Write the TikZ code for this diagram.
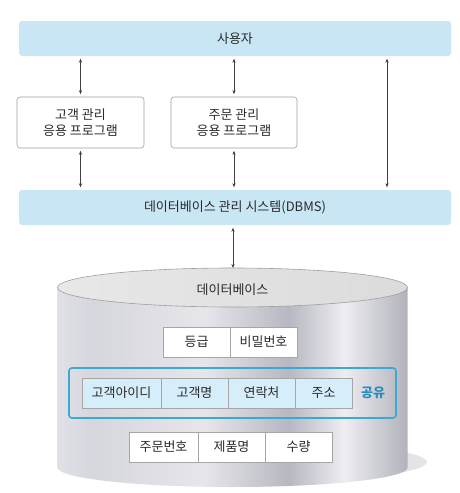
\documentclass[tikz,border=0pt]{standalone}
\usepackage{fontspec}
\setmainfont{Noto Sans CJK KR}
\usetikzlibrary{arrows.meta,positioning}
\definecolor{barblue}{HTML}{C9E6F5}
\definecolor{cellblue}{HTML}{D6EEFA}
\definecolor{frameblue}{HTML}{3BA9D3}
\definecolor{sharetext}{HTML}{2B8CBB}
\definecolor{txtgray}{HTML}{2A2A2A}
\pgfdeclarehorizontalshading{cylbody}{100bp}{%
  rgb(0bp)=(.80,.80,.83); rgb(4bp)=(.70,.70,.73); rgb(16bp)=(.95,.95,.97);
  rgb(30bp)=(.84,.84,.87); rgb(46bp)=(.90,.90,.92); rgb(58bp)=(.72,.72,.76);
  rgb(66bp)=(.93,.93,.95); rgb(76bp)=(.67,.67,.71); rgb(93bp)=(.86,.86,.89);
  rgb(100bp)=(.75,.75,.78)}

\begin{document}
\begin{tikzpicture}[x=1pt, y=-1pt,
        font=\fontsize{13}{16}\selectfont, text=txtgray,
        bar/.style={fill=barblue, rounded corners=3pt, minimum width=432pt, minimum height=35pt},
        app/.style={draw=gray!75, line width=0.6pt, fill=white, rounded corners=3pt, align=center, minimum height=51pt},
        cell/.style={draw=gray!70, line width=0.6pt, fill=white, outer sep=0pt, minimum height=30pt, inner sep=0pt},
        shared/.style={cell, fill=cellblue},
        link/.style={{Stealth[length=4pt,width=3.2pt]}-{Stealth[length=4pt,width=3.2pt]}, draw=black!75, line width=0.6pt, shorten <=2.5pt, shorten >=2.5pt}]
    \useasboundingbox (0,0) rectangle (459,493);

    % user and DBMS layers
    \node[bar] (user) at (235,38.5) {사용자};
    \node[app, minimum width=127pt] (app1) at (80.5,122.5) {고객 관리\\응용 프로그램};
    \node[app, minimum width=126pt] (app2) at (234,122.5) {주문 관리\\응용 프로그램};
    \node[bar] (dbms) at (235,207.5) {데이터베이스 관리 시스템(DBMS)};

    \coordinate (direct) at (387,120);
    \coordinate (dbtop) at (233,268);
    \draw[link] (user.south -| app1.north) -- (app1.north);
    \draw[link] (user.south -| app2.north) -- (app2.north);
    \draw[link] (app1.south) -- (dbms.north -| app1.south);
    \draw[link] (app2.south) -- (dbms.north -| app2.south);
    \draw[link] (user.south -| direct) -- (dbms.north -| direct);
    \draw[link, shorten >=0pt] (dbms.south -| dbtop) -- (dbtop);

    % database cylinder
    \shade[left color=gray!45, right color=gray!20] (255,462) ellipse [x radius=172pt, y radius=20pt];
    \shade[shading=cylbody] (57.5,287.5) -- (57.5,467.5)
        arc[start angle=180, end angle=360, x radius=175pt, y radius=19.5pt] -- (407.5,287.5) -- cycle;
    \shade[left color=gray!18, right color=gray!28, draw=gray!75, line width=0.6pt]
        (232.5,287.5) ellipse [x radius=175pt, y radius=19.5pt];
    \node (db) at (232.5,290) {데이터베이스};

    % customer-only fields
    \node[cell, minimum width=67pt, anchor=west] (grade) at (163,342) {등급};
    \node[cell, minimum width=67pt, right=0pt of grade] (pw) {비밀번호};

    % shared fields
    \node[shared, minimum width=79pt, anchor=west] (cid) at (82,393) {고객아이디};
    \node[shared, minimum width=67pt, right=0pt of cid] (cname) {고객명};
    \node[shared, minimum width=67pt, right=0pt of cname] (phone) {연락처};
    \node[shared, minimum width=57pt, right=0pt of phone] (addr) {주소};
    \node[font=\fontsize{13}{16}\selectfont\bfseries, text=sharetext] (share) at (373,393) {공유};
    \draw[frameblue, line width=1.6pt, rounded corners=3pt] (69,368) rectangle (396,418);

    % order-only fields
    \node[cell, minimum width=69pt, anchor=west] (ordno) at (129,447) {주문번호};
    \node[cell, minimum width=67pt, right=0pt of ordno] (prod) {제품명};
    \node[cell, minimum width=67pt, right=0pt of prod] (qty) {수량};
\end{tikzpicture}
\end{document}
